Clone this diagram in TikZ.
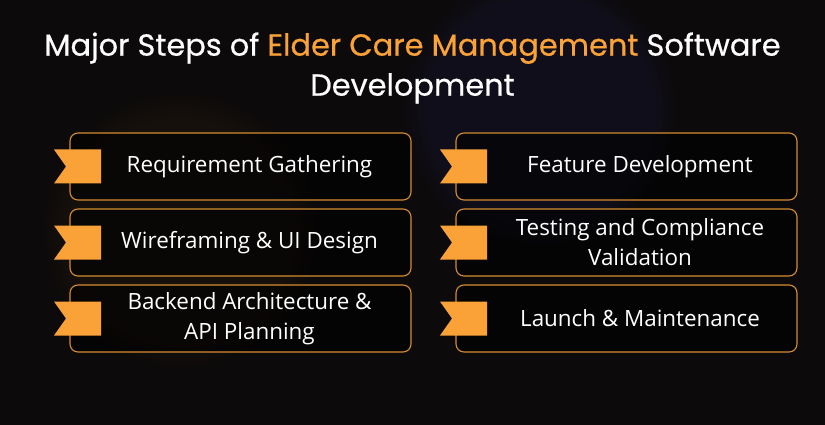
\documentclass[tikz,border=0pt]{standalone}
\usepackage{fontspec}
\usetikzlibrary{calc,fadings}
\setmainfont{Poppins}
\newfontfamily\titlefont{Poppins}[FakeBold=0.6]
\newfontfamily\boxfont{Open Sans}
\definecolor{bg}{RGB}{12,10,10}
\definecolor{accent}{RGB}{250,162,56}
\definecolor{edge}{RGB}{214,140,50}
\begin{document}
\begin{tikzpicture}[x=1pt,y=-1pt,
  stepbox/.style={draw=edge,line width=1.1pt,rounded corners=8pt,fill=black,fill opacity=0.55,draw opacity=1},
  ribbon/.style={fill=accent,draw=none},
  label/.style={text=white,font=\boxfont\fontsize{22.4}{30}\selectfont,align=center,inner sep=0pt},
  ttl/.style={text=white,font=\titlefont\fontsize{30.4}{40}\selectfont,align=center,inner sep=0pt}]
\useasboundingbox (0,0) rectangle (825,425);
\fill[bg] (0,0) rectangle (825,425);
% soft background glows
\fill[black!60!brown,opacity=0.15,path fading=circle with fuzzy edge 20 percent] (180,230) circle (140);
\fill[gray!50!blue!60!bg,opacity=0.15,path fading=circle with fuzzy edge 20 percent] (540,110) circle (140);
% title
\node[ttl] (title) at (412.5,68) {Major Steps of \textcolor{accent}{Elder Care Management} Software\\Development};
% boxes
\foreach \n/\x/\y in {a/70/133,b/70/209,c/70/285,d/456/133,e/456/209,f/456/285}{
  \draw[stepbox] (\x,\y) rectangle ++(341,67);
  \coordinate (\n) at (\x,\y+33.5);
}
\foreach \n in {a,b,c,d,e,f}{
  \fill[ribbon] ($(\n)+(-16,-17)$) -- ++(47,0) -- ++(0,34) -- ++(-47,0) -- ++(12,-17) -- cycle;
}
\node[label] (ta) at (249.5,166.5) {Requirement Gathering};
\node[label] (tb) at (249.5,242.5) {Wireframing \& UI Design};
\node[label] (tc) at (249.5,318.5) {Backend Architecture \&\\API Planning};
\node[label] (td) at (640,166.5) {Feature Development};
\node[label] (te) at (640,242.5) {Testing and Compliance\\Validation};
\node[label] (tf) at (640,318.5) {Launch \& Maintenance};
\end{tikzpicture}
\end{document}
